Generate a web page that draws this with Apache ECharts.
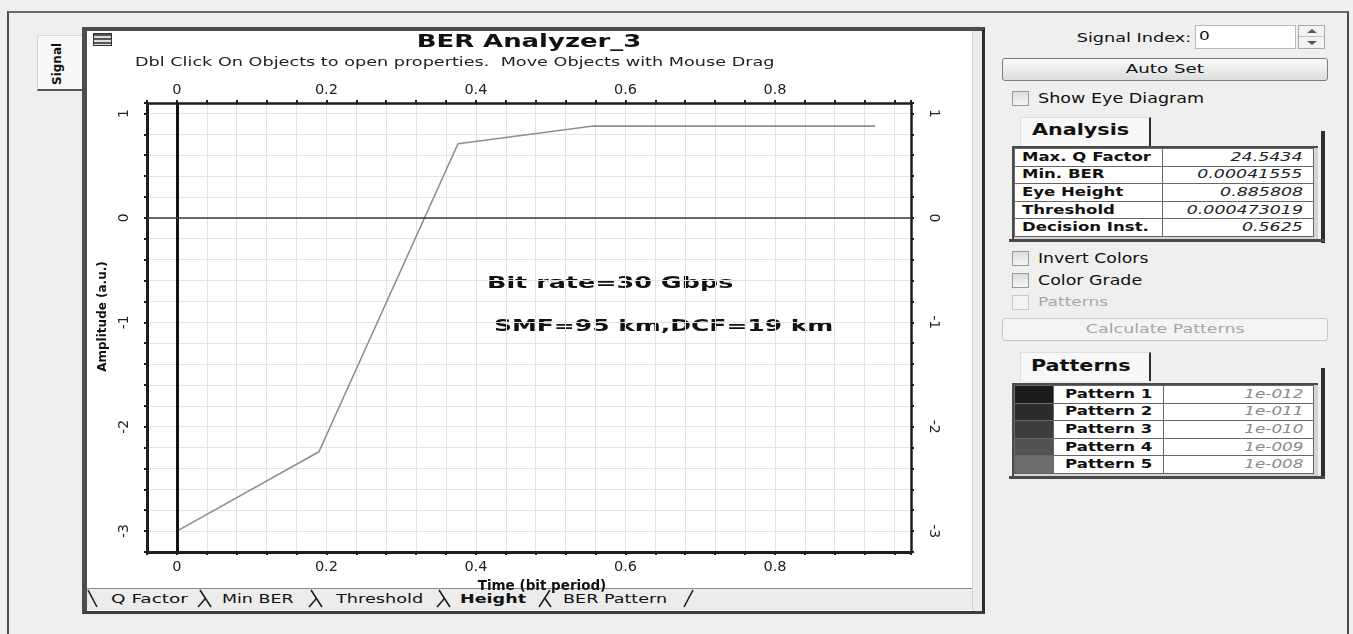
<!DOCTYPE html>
<html><head><meta charset="utf-8">
<script src="https://cdn.jsdelivr.net/npm/echarts@6/dist/echarts.min.js"></script>
<style>
body{margin:0;width:1353px;height:634px;background:#efefef;position:relative;overflow:hidden;font-family:'DejaVu Sans',sans-serif;color:#111}
.a{position:absolute;box-sizing:border-box}
.t{position:absolute;white-space:nowrap;line-height:1;transform-origin:0 50%}
.tr{position:absolute;white-space:nowrap;line-height:1;transform-origin:100% 50%}
.cb{position:absolute;width:17px;height:15px;border:1px solid #9a9a9a;background:linear-gradient(#dcdcdc,#f6f6f6);box-sizing:border-box}
.btn{position:absolute;border:1px solid #7c7c7c;border-radius:3px;background:linear-gradient(#fbfbfb,#dcdcdc);box-sizing:border-box;text-align:center;font-size:13px;line-height:20px}
.btn span{display:inline-block;transform:scaleX(1.4)}
table.g{border-collapse:collapse;table-layout:fixed;background:#fff;width:100%}
table.g td{border:1px solid #666;height:16.6px;padding:0;font-size:12px;line-height:15px;white-space:nowrap;overflow:hidden}
td.l span{display:inline-block;transform:scaleX(1.38);transform-origin:0 50%;font-weight:bold;padding-left:5px}
td.v{text-align:right}
td.v span{display:inline-block;transform:scaleX(1.45);transform-origin:100% 50%;font-style:italic;padding-right:7px;color:#222}
td.p{text-align:right}
td.p span{display:inline-block;transform:scaleX(1.4);transform-origin:100% 50%;font-style:italic;padding-right:7px;color:#8a8a8a}
#chart{position:absolute;left:0;top:0;width:1353px;height:634px;z-index:5}
</style></head>
<body>
<!-- outer window frame -->
<div class="a" style="left:7px;top:11px;width:1342px;height:630px;border-left:2px solid #4a4a4a;border-top:2px solid #6a6a6a;border-right:2px solid #4a4a4a"></div>
<!-- Signal tab -->
<div class="a" style="left:37px;top:35px;width:45px;height:56px;background:#f8f8f8;border-top:1px solid #d6d6d6;border-left:1px solid #d6d6d6;border-bottom:2px solid #555"></div>
<div class="t" style="left:36px;top:58px;font-size:12px;font-weight:bold;width:42px;text-align:center;transform:rotate(-90deg);transform-origin:50% 50%">Signal</div>
<!-- chart panel -->
<div class="a" style="left:82px;top:27px;width:903px;height:587px;background:#fff;border-left:5px solid #4d4d4d;border-top:4px solid #4d4d4d;border-right:3px solid #2d2d2d;border-bottom:3px solid #3d3d3d"></div>
<div class="a" style="left:972px;top:31px;width:10px;height:580px;background:#ececec;border-left:1px solid #d0d0d0"></div>
<div class="a" style="left:87px;top:588px;width:885px;height:22px;background:#ececec;border-top:1px solid #8a8a8a"></div>
<div class="a" style="left:93px;top:33px;width:19px;height:13px;border:1px solid #333;background:repeating-linear-gradient(#555 0 2px,#ddd 2px 4px)"></div>
<svg class="a" style="left:0;top:0;z-index:3" width="700" height="634">
 <g stroke="#1e1e1e" stroke-width="1.6" fill="none">
  <line x1="88" y1="590" x2="97" y2="607"/>
  <line x1="200" y1="590" x2="211" y2="607"/><line x1="198" y1="607" x2="205.5" y2="598.5"/>
  <line x1="311" y1="590" x2="322" y2="607"/><line x1="309" y1="607" x2="316.5" y2="598.5"/>
  <line x1="439" y1="590" x2="450" y2="607"/><line x1="437" y1="607" x2="444.5" y2="598.5"/>
  <line x1="539" y1="607" x2="550" y2="590"/><line x1="545" y1="598.5" x2="551" y2="607"/>
  <line x1="684" y1="607" x2="693" y2="590"/>
 </g>
</svg>
<div class="t" style="left:111px;top:592px;font-size:13px;transform:scaleX(1.42)">Q Factor</div>
<div class="t" style="left:222px;top:592px;font-size:13px;transform:scaleX(1.34)">Min BER</div>
<div class="t" style="left:336px;top:592px;font-size:13px;transform:scaleX(1.36)">Threshold</div>
<div class="t" style="left:460px;top:592px;font-size:13px;font-weight:bold;transform:scaleX(1.35)">Height</div>
<div class="t" style="left:563px;top:592px;font-size:13px;transform:scaleX(1.35)">BER Pattern</div>

<!-- right panel -->
<div class="tr" style="right:162px;top:31px;font-size:13px;transform:scaleX(1.36)">Signal Index:</div>
<div class="a" style="left:1195px;top:25px;width:101px;height:24px;background:#fff;border:1px solid #b8b8b8"></div>
<div class="t" style="left:1199px;top:29px;font-size:13px;transform:scaleX(1.3)">0</div>
<div class="a" style="left:1298px;top:25px;width:27px;height:24px;background:#f3f3f3;border:1px solid #a8a8a8"></div>
<div class="a" style="left:1299px;top:36px;width:25px;height:1px;background:#c0c0c0"></div>
<div class="a" style="left:1307px;top:29px;width:0;height:0;border-left:5px solid transparent;border-right:5px solid transparent;border-bottom:4px solid #555"></div>
<div class="a" style="left:1307px;top:41px;width:0;height:0;border-left:5px solid transparent;border-right:5px solid transparent;border-top:4px solid #555"></div>
<div class="btn" style="left:1002px;top:58px;width:326px;height:23px"><span>Auto Set</span></div>
<div class="cb" style="left:1012px;top:91px"></div>
<div class="t" style="left:1038px;top:92px;font-size:13.5px;transform:scaleX(1.3)">Show Eye Diagram</div>

<div class="a" style="left:1020px;top:117px;width:131px;height:29px;background:#f7f7f7;border-top:1px solid #dedede;border-left:1px solid #dedede;border-right:2px solid #2e2e2e"></div>
<div class="t" style="left:1032px;top:123px;font-size:15px;font-weight:bold;transform:scaleX(1.38)">Analysis</div>
<div class="a" style="left:1012px;top:146px;width:306px;height:94px;background:#d4d4d4;border-left:2px solid #4a4a4a;border-top:2px solid #4a4a4a;padding:0 4px 2px 0">
<table class="g"><colgroup><col style="width:148px"><col></colgroup>
<tr><td class="l"><span>Max. Q Factor</span></td><td class="v"><span>24.5434</span></td></tr>
<tr><td class="l"><span>Min. BER</span></td><td class="v"><span>0.00041555</span></td></tr>
<tr><td class="l"><span>Eye Height</span></td><td class="v"><span>0.885808</span></td></tr>
<tr><td class="l"><span>Threshold</span></td><td class="v"><span>0.000473019</span></td></tr>
<tr><td class="l"><span>Decision Inst.</span></td><td class="v"><span>0.5625</span></td></tr>
</table></div>
<div class="a" style="left:1321px;top:131px;width:4px;height:112px;background:#2e2e2e"></div>
<div class="a" style="left:1009px;top:239px;width:316px;height:3px;background:#4a4a4a"></div>

<div class="cb" style="left:1012px;top:251px"></div>
<div class="t" style="left:1038px;top:252px;font-size:13.5px;transform:scaleX(1.28)">Invert Colors</div>
<div class="cb" style="left:1012px;top:273px"></div>
<div class="t" style="left:1038px;top:274px;font-size:13.5px;transform:scaleX(1.29)">Color Grade</div>
<div class="cb" style="left:1012px;top:295px;border-color:#c8c8c8;background:#f2f2f2"></div>
<div class="t" style="left:1038px;top:296px;font-size:12px;color:#a8a8a8;transform:scaleX(1.42)">Patterns</div>
<div class="btn" style="left:1002px;top:318px;width:326px;height:23px;border-color:#c6c6c6;background:#f4f4f4;color:#a6a6a6"><span style="transform:scaleX(1.34)">Calculate Patterns</span></div>

<div class="a" style="left:1020px;top:352px;width:131px;height:29px;background:#f7f7f7;border-top:1px solid #dedede;border-left:1px solid #dedede;border-right:2px solid #2e2e2e"></div>
<div class="t" style="left:1031px;top:359px;font-size:15px;font-weight:bold;transform:scaleX(1.38)">Patterns</div>
<div class="a" style="left:1012px;top:383px;width:306px;height:94px;background:#d4d4d4;border-left:2px solid #4a4a4a;border-top:2px solid #4a4a4a;padding:0 4px 2px 0">
<table class="g"><colgroup><col style="width:39px"><col style="width:110px"><col></colgroup>
<tr><td style="background:#1b1b1b"></td><td class="l"><span style="padding-left:8px">Pattern 1</span></td><td class="p"><span>1e-012</span></td></tr>
<tr><td style="background:#2c2c2c"></td><td class="l"><span style="padding-left:8px">Pattern 2</span></td><td class="p"><span>1e-011</span></td></tr>
<tr><td style="background:#3d3d3d"></td><td class="l"><span style="padding-left:8px">Pattern 3</span></td><td class="p"><span>1e-010</span></td></tr>
<tr><td style="background:#525252"></td><td class="l"><span style="padding-left:8px">Pattern 4</span></td><td class="p"><span>1e-009</span></td></tr>
<tr><td style="background:#6c6c6c"></td><td class="l"><span style="padding-left:8px">Pattern 5</span></td><td class="p"><span>1e-008</span></td></tr>
</table></div>
<div class="a" style="left:1321px;top:368px;width:4px;height:111px;background:#2e2e2e"></div>
<div class="a" style="left:1009px;top:476px;width:316px;height:3px;background:#4a4a4a"></div>

<div id="chart"></div>
<script>
// ---- data ----
const timeValues = [0, 0.19, 0.376, 0.557, 0.934];          // Time (bit period)
const amplitudeValues = [-3.0, -2.24, 0.71, 0.879, 0.879];   // Amplitude (a.u.)
const xTickLabels = [0, 0.2, 0.4, 0.6, 0.8];
const yTickLabels = [1, 0, -1, -2, -3];
const titleText = 'BER Analyzer_3';
const subtitleText = 'Dbl Click On Objects to open properties.  Move Objects with Mouse Drag';
const noteLines = ['Bit rate=30 Gbps', 'SMF=95 km,DCF=19 km'];

function pick(list, v) {
  const hit = list.find(t => Math.abs(t - v) < 1e-6);
  return hit === undefined ? '' : String(hit);
}
const xFmt = v => pick(xTickLabels, v);
const yFmt = v => pick(yTickLabels, v);

const FONT = 'DejaVu Sans';
const frame = '#1e1e1e';
function xAxisCfg(pos, extra) {
  return Object.assign({
    type: 'value', position: pos, min: -0.04, max: 0.982, interval: 0.04,
    axisLine: { show: true, onZero: false, lineStyle: { color: frame, width: pos === 'bottom' ? 3 : 2.5 } },
    axisTick: { show: true, length: 3, lineStyle: { color: frame, width: 2 } },
    axisLabel: { formatter: xFmt, fontFamily: FONT, fontSize: 14.5, color: '#222', margin: pos === 'bottom' ? 8 : 5 },
    splitLine: { show: false }
  }, extra || {});
}
function yAxisCfg(pos, extra) {
  return Object.assign({
    type: 'value', position: pos, min: -3.2, max: 1.1, interval: 0.2,
    axisLine: { show: true, onZero: false, lineStyle: { color: frame, width: pos === 'left' ? 3 : 2.5 } },
    axisTick: { show: true, length: 3, lineStyle: { color: frame, width: 2 } },
    axisLabel: { formatter: yFmt, fontFamily: FONT, fontSize: 14, color: '#222', margin: 16, rotate: pos === 'left' ? 90 : -90 },
    splitLine: { show: false }
  }, extra || {});
}

const chart = echarts.init(document.getElementById('chart'), null, { renderer: 'canvas' });
chart.setOption({
  backgroundColor: 'transparent',
  animation: false,
  grid: { left: 147, top: 103, width: 764, height: 449, containLabel: false },
  xAxis: [
    xAxisCfg('bottom', {
      splitLine: { show: true, lineStyle: { color: '#e3e3e3', width: 1 } },
      name: 'Time (bit period)', nameLocation: 'middle', nameGap: 19,
      nameTextStyle: { fontFamily: FONT, fontSize: 13.5, fontWeight: 'bold', color: '#111', padding: [0, 0, 0, 26] }
    }),
    xAxisCfg('top')
  ],
  yAxis: [
    yAxisCfg('left', {
      splitLine: { show: true, lineStyle: { color: '#e3e3e3', width: 1 } },
      name: 'Amplitude (a.u.)', nameLocation: 'middle', nameGap: 38,
      nameTextStyle: { fontFamily: FONT, fontSize: 12, fontWeight: 'bold', color: '#111', padding: [0, 0, 0, 22] }
    }),
    yAxisCfg('right')
  ],
  series: [{
    type: 'line', xAxisIndex: 0, yAxisIndex: 0,
    data: timeValues.map((t, i) => [t, amplitudeValues[i]]),
    symbol: 'none', lineStyle: { color: '#8e8e8e', width: 1.6 },
    markLine: {
      silent: true, symbol: 'none', label: { show: false }, animation: false,
      data: [
        { xAxis: 0, lineStyle: { color: '#151515', width: 3, type: 'solid' } },
        { yAxis: 0, lineStyle: { color: '#3a3a3a', width: 1.5, type: 'solid' } }
      ]
    }
  }],
  graphic: [
    { type: 'text', x: 529, y: 42, scaleX: 1.44,
      style: { text: titleText, fontFamily: FONT, fontSize: 18, fontWeight: 'bold', fill: '#111', align: 'center', verticalAlign: 'middle' } },
    { type: 'text', x: 135, y: 63, scaleX: 1.47,
      style: { text: subtitleText, fontFamily: FONT, fontSize: 12, fill: '#222', align: 'left', verticalAlign: 'middle' } },
    { type: 'text', x: 487, y: 284, scaleX: 1.59,
      style: { text: noteLines[0], fontFamily: FONT, fontSize: 16, fontWeight: 'bold', fill: '#111', align: 'left', verticalAlign: 'middle' } },
    { type: 'text', x: 494, y: 327, scaleX: 1.56,
      style: { text: noteLines[1], fontFamily: FONT, fontSize: 16, fontWeight: 'bold', fill: '#111', align: 'left', verticalAlign: 'middle' } }
  ]
});
</script>
</body></html>
